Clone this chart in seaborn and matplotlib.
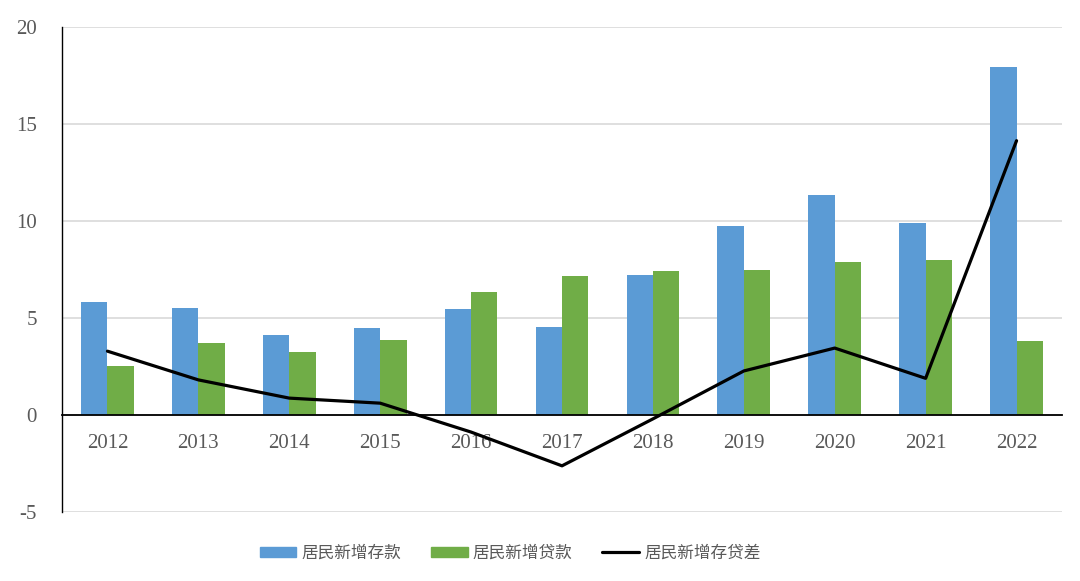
import matplotlib
matplotlib.use("Agg")
import matplotlib.pyplot as plt
import seaborn as sns
import numpy as np
import pandas as pd
from matplotlib.ticker import FixedLocator, MultipleLocator
from matplotlib.patches import Patch
from matplotlib.lines import Line2D

years = ["2012", "2013", "2014", "2015", "2016", "2017", "2018", "2019", "2020", "2021", "2022"]
deposits = [5.82, 5.52, 4.12, 4.48, 5.46, 4.54, 7.22, 9.74, 11.34, 9.88, 17.95]
loans = [2.53, 3.71, 3.25, 3.87, 6.34, 7.16, 7.42, 7.47, 7.89, 7.99, 3.81]
gap = [3.29, 1.81, 0.87, 0.61, -0.88, -2.62, -0.20, 2.27, 3.45, 1.89, 14.14]

lab_dep = "居民新增存款"
lab_loan = "居民新增贷款"
lab_gap = "居民新增存贷差"

df = pd.DataFrame({"year": years * 2,
                   "value": deposits + loans,
                   "kind": [lab_dep] * len(years) + [lab_loan] * len(years)})

sns.set_style("white")
plt.rcParams['font.family'] = ['Liberation Serif', 'Noto Sans CJK SC', 'DejaVu Sans']
plt.rcParams['axes.unicode_minus'] = False

fig = plt.figure(figsize=(10.8, 5.81), dpi=100)
ax = fig.add_axes([62 / 1080, 1 - 512 / 581, 1000 / 1080, 485 / 581])

grey = "#595959"
blue, green = "#5B9BD5", "#70AD47"
sns.barplot(data=df, x="year", y="value", hue="kind", order=years,
            palette=[blue, green], width=0.58, gap=0, linewidth=0,
            saturation=1, ax=ax, legend=False)
sns.lineplot(x=np.arange(len(years)), y=gap, color="black", lw=2.3, ax=ax)

ax.set_ylim(-5, 20)
ax.set_xlim(-0.5, len(years) - 0.5)
ax.yaxis.set_major_locator(MultipleLocator(5))
ax.grid(axis="y", color="#D9D9D9", lw=1.2)
ax.set_axisbelow(True)
for s in ["top", "right"]:
    ax.spines[s].set_visible(False)
ax.spines["left"].set_color("black")
ax.spines["left"].set_linewidth(1)
ax.spines["bottom"].set_position(("data", 0))
ax.spines["bottom"].set_color("black")
ax.spines["bottom"].set_linewidth(1.3)
ax.spines["bottom"].set_zorder(3)

ax.xaxis.set_major_locator(FixedLocator(np.arange(-0.5, len(years), 1.0)))
ax.xaxis.set_minor_locator(FixedLocator(np.arange(len(years))))
ax.set_xticklabels([], minor=False)
ax.set_xticklabels(years, minor=True)
ax.tick_params(axis="x", which="major", direction="in", length=5, width=1, color="black")
ax.tick_params(axis="x", which="minor", length=0, pad=14, labelsize=15, labelcolor=grey)
ax.tick_params(axis="y", direction="in", length=5, width=1, color="black",
               pad=18, labelsize=15, labelcolor=grey)
ax.set_xlabel("")
ax.set_ylabel("")

handles = [Patch(color=blue, label=lab_dep),
           Patch(color=green, label=lab_loan),
           Line2D([], [], color="black", lw=2.3, label=lab_gap)]
fig.legend(handles=handles, loc="center", bbox_to_anchor=(510 / 1080, 1 - 553 / 581),
           ncol=3, frameon=False, handlelength=2.2, handleheight=0.55,
           handletextpad=0.3, columnspacing=1.8,
           prop={"family": ["Noto Sans CJK SC"], "size": 12}, labelcolor=grey)

fig.savefig("out.png", dpi=100)
